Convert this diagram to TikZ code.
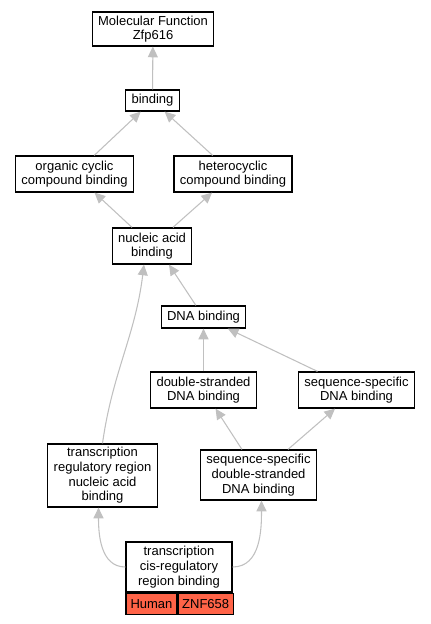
\documentclass[tikz,border=0pt]{standalone}
\usepackage{fontspec}
\setmainfont{Liberation Sans}
\usepackage{tikz}
\usetikzlibrary{positioning, arrows.meta}
\definecolor{GOGray}{RGB}{192,192,192}
\definecolor{GOTomato}{RGB}{255,99,71}
\newdimen\px \px=0.75pt

\begin{document}
\begin{tikzpicture}[x=0.75pt, y=-0.75pt,
          term/.style={rectangle, draw=black, line width=0.9pt, fill=white,
                       align=center, inner xsep=4.4pt, inner ysep=0pt,
                       font=\fontsize{9.75}{11}\selectfont},
          cell/.style={term, fill=GOTomato, inner xsep=0pt,
                       minimum height=21\px, anchor=north west},
          isa/.style={-{Triangle[length=8pt, width=7.5pt]}, draw=GOGray,
                      line width=0.8pt}
        ]
        \useasboundingbox (0,0) rectangle (431,624);

        \node[term, minimum height=34\px] (mf)   at (153, 29)
              {Molecular Function\\Zfp616};
        \node[term, minimum height=21\px] (bind) at (152.5, 100.5) {binding};
        \node[term, minimum height=36\px] (org)  at (74.5, 174)
              {organic cyclic\\compound binding};
        \node[term, minimum height=36\px] (het)  at (233, 174)
              {heterocyclic\\compound binding};
        \node[term, minimum height=36\px] (nab)  at (152, 246)
              {nucleic acid\\binding};
        \node[term, minimum height=22\px] (dna)  at (203.5, 317) {DNA binding};
        \node[term, minimum height=36\px] (ds)   at (203.5, 390)
              {double-stranded\\DNA binding};
        \node[term, minimum height=36\px] (ssd)  at (356.5, 390)
              {sequence-specific\\DNA binding};
        \node[term, minimum height=63\px] (trr)  at (102.5, 475.5)
              {transcription\\regulatory region\\nucleic acid\\binding};
        \node[term, minimum height=50\px] (ssds) at (258.5, 475)
              {sequence-specific\\double-stranded\\DNA binding};
        \node[term, minimum height=50\px, minimum width=106\px] (cis) at (179, 567)
              {transcription\\cis-regulatory\\region binding};
        \node[cell, minimum width=51\px] (human) at (cis.south west) {Human};
        \node[cell, minimum width=55\px] (znf)   at (human.north east) {ZNF658};

        \draw[isa] (bind) -- (mf);
        \draw[isa] (org)  -- (bind);
        \draw[isa] (het)  -- (bind);
        \draw[isa] (nab)  -- (org);
        \draw[isa] (nab)  -- (het);
        \draw[isa] (dna)  -- ([xshift=17\px]nab.south);
        \draw[isa] (trr.north) to[out=82, in=-97] ([xshift=-8\px]nab.south);
        \draw[isa] (ds)   -- (dna);
        \draw[isa] (ssd)  -- (dna);
        \draw[isa] (ssds) -- (ds);
        \draw[isa] (ssds) -- (ssd);
        \draw[isa] (cis.west) to[out=180, in=-90] ([xshift=-4\px]trr.south);
        \draw[isa] (cis.east) to[out=0, in=-90] ([xshift=3\px]ssds.south);
      \end{tikzpicture}
\end{document}
